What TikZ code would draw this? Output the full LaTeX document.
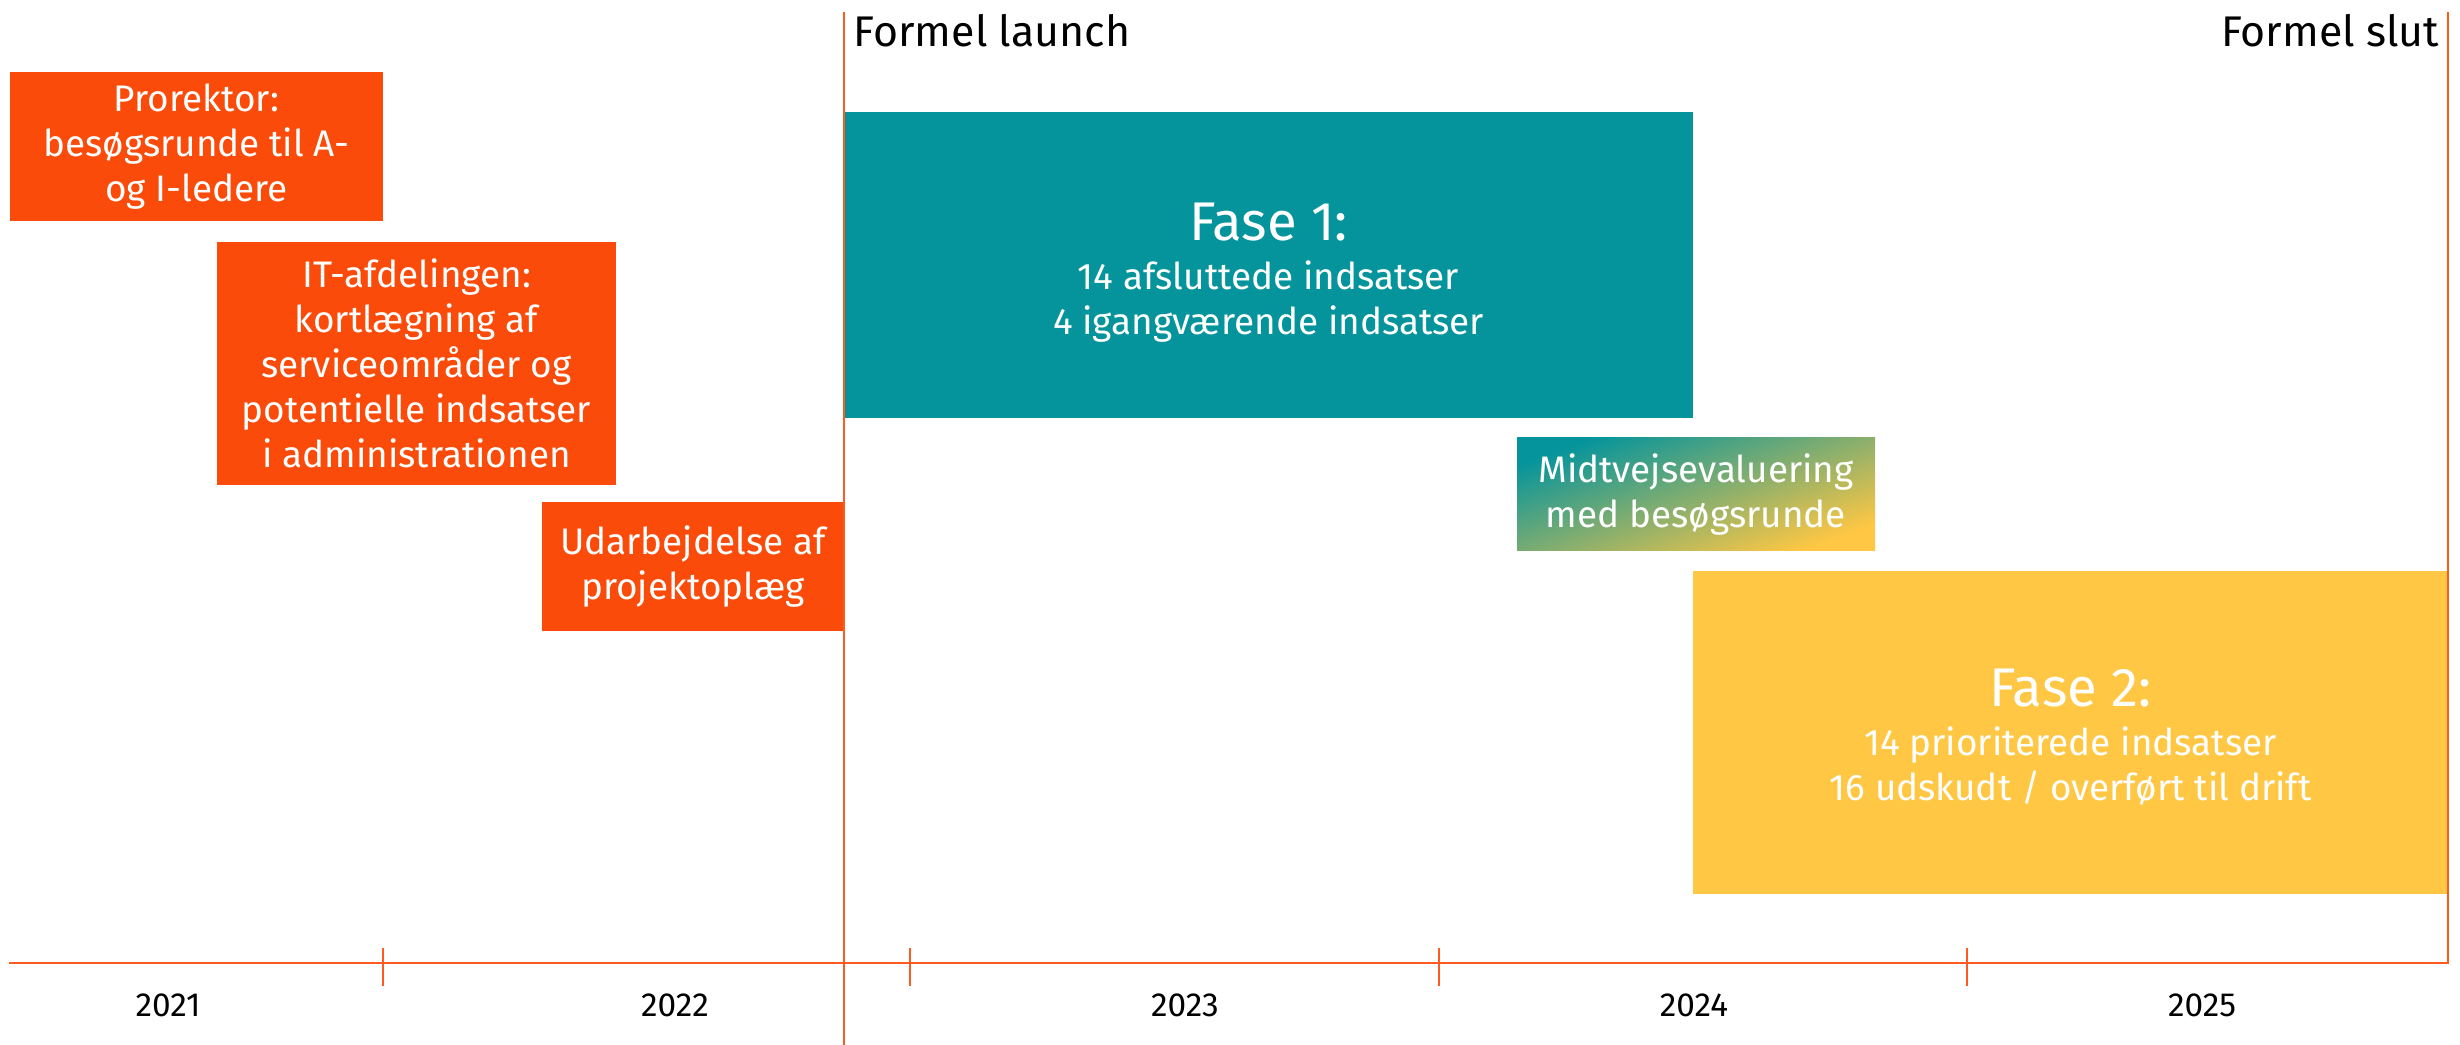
\documentclass[tikz,border=0pt]{standalone}
\usepackage{fontspec}
\setmainfont{Fira Sans}
\definecolor{auorange}{HTML}{FA4B0A}
\definecolor{auteal}{HTML}{05949C}
\definecolor{auyellow}{HTML}{FFC743}
\definecolor{auline}{HTML}{FF5A1F}
\begin{document}
\begin{tikzpicture}[x=0.1mm, y=-0.1mm,
		box/.style={fill=#1, text=white, inner sep=0pt, align=center, font=\fontsize{10.5}{12.8}\selectfont},
		phase/.style={fill=#1, inner sep=0pt},
		phasetext/.style={text=white, inner sep=0pt, align=center, font=\fontsize{10.5}{12.8}\selectfont},
		mark/.style={anchor=#1, inner sep=0pt, font=\fontsize{12.2}{14}\selectfont},
		l_axis/.style={auline, line width=0.85pt},
		l_mark/.style={auline, line width=0.5pt},
		l_tick/.style={auline, line width=0.3pt}]
		\useasboundingbox (0,0) rectangle (2460,1045);
		% preparation (orange)
		\node[box=auorange, minimum width=373*0.1mm, minimum height=149*0.1mm] (prorektor) at (196.5,146.5)
			{Prorektor:\\besøgsrunde til A-\\og I-ledere};
		\node[box=auorange, minimum width=399*0.1mm, minimum height=243*0.1mm] (itafd) at (416.5,363.5)
			{IT-afdelingen:\\kortlægning af\\serviceområder og\\potentielle indsatser\\i administrationen};
		\node[box=auorange, minimum width=302*0.1mm, minimum height=129*0.1mm] (udarb) at (693,566.5)
			{Udarbejdelse af\\projektoplæg};
		% phases
		\node[phase=auteal, minimum width=849*0.1mm, minimum height=306*0.1mm] (fase1) at (1268.5,265) {};
		\node[phasetext, yshift=-0.8mm] (fase1txt) at (fase1)
			{{\fontsize{15.5}{19}\selectfont Fase 1:}\\[1.2pt]14 afsluttede indsatser\\4 igangværende indsatser};
		\node[box=white, top color=auteal, bottom color=auyellow, shading angle=20,
			minimum width=358*0.1mm, minimum height=113*0.1mm] (midtvejs) at (1696,494.5)
			{Midtvejsevaluering\\med besøgsrunde};
		\node[phase=auyellow, minimum width=755*0.1mm, minimum height=323*0.1mm] (fase2) at (2070.5,732.5) {};
		\node[phasetext, yshift=-0.5mm] (fase2txt) at (fase2)
			{{\fontsize{15.5}{19}\selectfont Fase 2:}\\[1.2pt]14 prioriterede indsatser\\16 udskudt / overført til drift};
		% launch and end
		\coordinate (launchtop) at (844,12);
		\coordinate (launchbot) at (844,1045);
		\coordinate (sluttop) at (2448,12);
		\coordinate (slutbot) at (2448,963);
		\draw[l_mark] (launchtop) -- (launchbot);
		\draw[l_mark] (sluttop) -- (slutbot);
		\node[mark=base west] (launch) at (853,47) {Formel launch};
		\node[mark=base east] (slut) at (2440,47) {Formel slut};
		% time axis
		\coordinate (ax0) at (9,963);
		\coordinate (ax1) at (2449,963);
		\draw[l_axis] (ax0) -- (ax1);
		\foreach \x in {383,910,1439,1967} {
			\draw[l_tick] (\x,948) -- (\x,986);
		};
		\foreach \x [count=\p from 2021] in {168,675,1185,1694,2202} {
			\node[anchor=base, font=\fontsize{9.5}{11}\selectfont] (y\p) at (\x,1017) {\p};
		};
		\end{tikzpicture}
\end{document}
